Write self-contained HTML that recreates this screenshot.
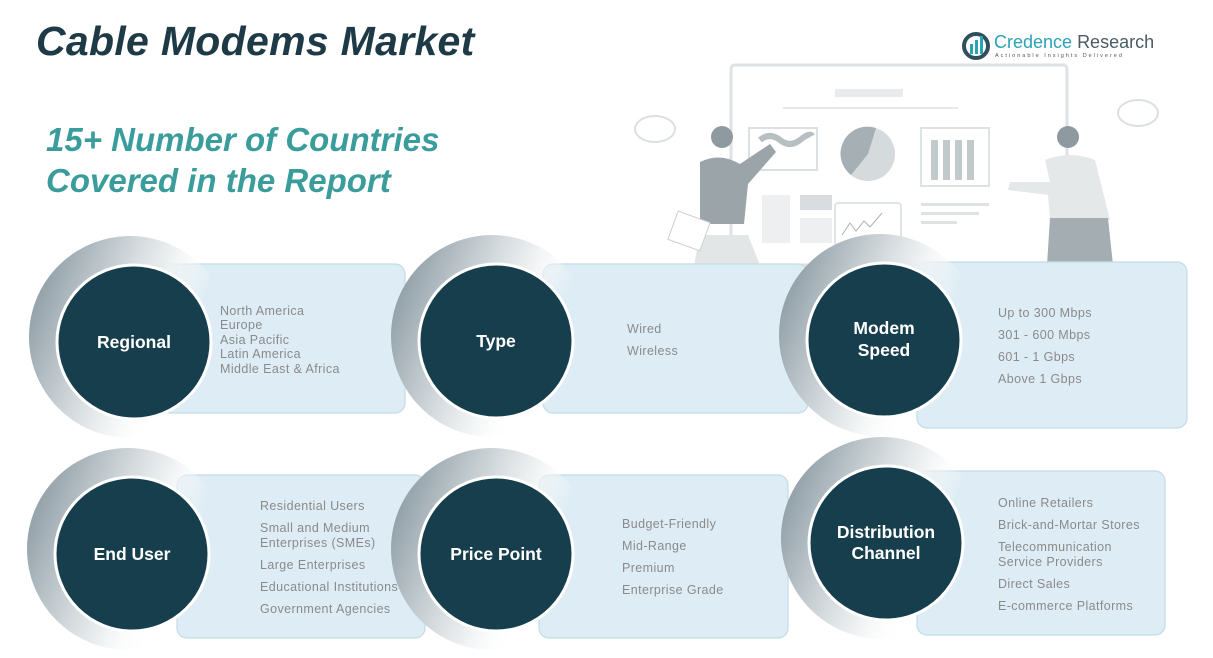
<!DOCTYPE html>
<html><head><meta charset="utf-8"><style>
html,body{margin:0;padding:0;background:#fff;}
svg{display:block;font-family:"Liberation Sans",sans-serif;}
.it{font-size:12.5px;fill:#8a8a8a;letter-spacing:.4px}
.lb{font-size:17.5px;fill:#fff;font-weight:bold;text-anchor:middle}
</style></head><body>
<svg width="1213" height="658" viewBox="0 0 1213 658" xmlns="http://www.w3.org/2000/svg">
<defs>
<linearGradient id="cr" x1="0" y1="0.3" x2="1" y2="0.7">
<stop offset="0" stop-color="#8d9ca5" stop-opacity="1"/><stop offset=".3" stop-color="#c6ced2" stop-opacity="1"/><stop offset=".55" stop-color="#eef1f2" stop-opacity=".9"/><stop offset=".75" stop-color="#fff" stop-opacity="0"/>
</linearGradient>
</defs>
<rect width="1213" height="658" fill="#fff"/>
<text x="36" y="55" font-size="41" font-weight="bold" font-style="italic" fill="#1d3a46" letter-spacing="0.3">Cable Modems Market</text>
<text x="46" y="151" font-size="33" font-weight="bold" font-style="italic" fill="#3b9c9c">15+ Number of Countries</text>
<text x="46" y="192" font-size="33" font-weight="bold" font-style="italic" fill="#3b9c9c">Covered in the Report</text>
<!-- logo -->
<circle cx="976" cy="46" r="12" fill="none" stroke="#2f4f5f" stroke-width="4"/>
<rect x="970" y="44" width="3" height="10" fill="#2aa3b5"/><rect x="975" y="40" width="3" height="14" fill="#2aa3b5"/><rect x="980" y="36" width="3" height="18" fill="#2aa3b5"/>
<text x="994" y="48" font-size="18" fill="#2aa3b5">Credence <tspan fill="#4a5a66">Research</tspan></text>
<text x="995" y="57" font-size="5.5" fill="#555" letter-spacing="2">Actionable Insights Delivered</text>
<!-- illustration -->
<rect x="731" y="65" width="336" height="200" rx="4" fill="none" stroke="#dfe2e4" stroke-width="3"/>
<rect x="835" y="89" width="68" height="8" fill="#e8eaeb"/>
<rect x="783" y="107" width="175" height="2" fill="#e6e8e9"/>
<rect x="749" y="128" width="68" height="42" fill="none" stroke="#dde0e2" stroke-width="2"/>
<path d="M760 140 q10 -8 20 0 t20 0 t12 -4" stroke="#b8bfc3" stroke-width="6" fill="none"/>
<circle cx="868" cy="154" r="27" fill="#d5dadc"/>
<path d="M868 154 L876 128 A27 27 0 0 0 851 175 Z" fill="#a5afb4"/>
<rect x="762" y="195" width="28" height="48" fill="#edeff0"/><rect x="800" y="195" width="32" height="15" fill="#d9dddf"/><rect x="800" y="218" width="32" height="25" fill="#edeff0"/>
<rect x="835" y="203" width="66" height="42" rx="3" fill="none" stroke="#e1e4e5" stroke-width="2"/>
<path d="M842 235 l8 -12 l6 8 l8 -10 l6 6 l12 -14" stroke="#aab2b6" fill="none"/>
<rect x="921" y="128" width="68" height="58" fill="none" stroke="#dfe2e3" stroke-width="2"/>
<rect x="931" y="140" width="7" height="40" fill="#c2c9cc"/><rect x="943" y="140" width="7" height="40" fill="#c2c9cc"/><rect x="955" y="140" width="7" height="40" fill="#c2c9cc"/><rect x="967" y="140" width="7" height="40" fill="#c2c9cc"/>
<rect x="921" y="203" width="68" height="3" fill="#dfe2e3"/><rect x="921" y="212" width="58" height="3" fill="#dfe2e3"/><rect x="921" y="221" width="36" height="3" fill="#dfe2e3"/>
<ellipse cx="655" cy="129" rx="20" ry="13" fill="none" stroke="#dcdfe1" stroke-width="2"/>
<ellipse cx="1138" cy="113" rx="20" ry="13" fill="none" stroke="#dcdfe1" stroke-width="2"/>
<circle cx="722" cy="137" r="11" fill="#8f9aa0"/>
<path d="M700 162 q20 -10 40 2 l30 -20 l6 8 l-28 32 l-4 40 l-44 0 z" fill="#9aa4a9"/>
<path d="M700 235 l48 0 l12 30 l-66 0 z" fill="#e3e6e7"/>
<rect x="672" y="216" width="34" height="30" fill="#fff" stroke="#c9cfd2" transform="rotate(20 689 231)"/>
<circle cx="1068" cy="137" r="11" fill="#8f9aa0"/>
<path d="M1045 160 q25 -10 50 0 l15 60 l-60 0 l-2 -25 l-40 -5 l2 -8 l40 0 z" fill="#e5e8e9"/>
<path d="M1050 218 l58 0 l5 47 l-66 0 z" fill="#a3adb2"/>
<!-- cards -->
<g fill="#deedf5" stroke="#c2dbe6" stroke-width="1.2">
<rect x="150" y="264" width="255" height="149" rx="10"/>
<rect x="543" y="264" width="265" height="149" rx="10"/>
<rect x="917" y="262" width="270" height="166" rx="10"/>
<rect x="177" y="475" width="248" height="163" rx="10"/>
<rect x="539" y="475" width="249" height="163" rx="10"/>
<rect x="917" y="471" width="248" height="164" rx="10"/>
</g>
<g>
<circle cx="130" cy="337" r="101" fill="url(#cr)"/>
<circle cx="134" cy="342" r="77" fill="#173e4c" stroke="#fff" stroke-width="3"/>
<circle cx="492" cy="336" r="101" fill="url(#cr)"/>
<circle cx="496" cy="341" r="77" fill="#173e4c" stroke="#fff" stroke-width="3"/>
<circle cx="880" cy="335" r="101" fill="url(#cr)"/>
<circle cx="884" cy="340" r="77" fill="#173e4c" stroke="#fff" stroke-width="3"/>
<circle cx="128" cy="549" r="101" fill="url(#cr)"/>
<circle cx="132" cy="554" r="77" fill="#173e4c" stroke="#fff" stroke-width="3"/>
<circle cx="492" cy="549" r="101" fill="url(#cr)"/>
<circle cx="496" cy="554" r="77" fill="#173e4c" stroke="#fff" stroke-width="3"/>
<circle cx="882" cy="538" r="101" fill="url(#cr)"/>
<circle cx="886" cy="543" r="77" fill="#173e4c" stroke="#fff" stroke-width="3"/>
</g>
<text class="lb" x="134" y="348">Regional</text>
<text class="lb" x="496" y="347">Type</text>
<text class="lb" x="884" y="334">Modem</text><text class="lb" x="884" y="356">Speed</text>
<text class="lb" x="132" y="560">End User</text>
<text class="lb" x="496" y="560">Price Point</text>
<text class="lb" x="886" y="538">Distribution</text><text class="lb" x="886" y="559">Channel</text>
<g>
<text class="it" x="220" y="315">North America</text>
<text class="it" x="220" y="329">Europe</text>
<text class="it" x="220" y="344">Asia Pacific</text>
<text class="it" x="220" y="358">Latin America</text>
<text class="it" x="220" y="373">Middle East &amp; Africa</text>
<text class="it" x="627" y="333">Wired</text>
<text class="it" x="627" y="355">Wireless</text>
<text class="it" x="998" y="317">Up to 300 Mbps</text>
<text class="it" x="998" y="339">301 - 600 Mbps</text>
<text class="it" x="998" y="361">601 - 1 Gbps</text>
<text class="it" x="998" y="383">Above 1 Gbps</text>
<text class="it" x="260" y="510">Residential Users</text>
<text class="it" x="260" y="532">Small and Medium</text>
<text class="it" x="260" y="547">Enterprises (SMEs)</text>
<text class="it" x="260" y="569">Large Enterprises</text>
<text class="it" x="260" y="591">Educational Institutions</text>
<text class="it" x="260" y="613">Government Agencies</text>
<text class="it" x="622" y="528">Budget-Friendly</text>
<text class="it" x="622" y="550">Mid-Range</text>
<text class="it" x="622" y="572">Premium</text>
<text class="it" x="622" y="594">Enterprise Grade</text>
<text class="it" x="998" y="507">Online Retailers</text>
<text class="it" x="998" y="529">Brick-and-Mortar Stores</text>
<text class="it" x="998" y="551">Telecommunication</text>
<text class="it" x="998" y="566">Service Providers</text>
<text class="it" x="998" y="588">Direct Sales</text>
<text class="it" x="998" y="610">E-commerce Platforms</text>
</g>
</svg>
</body></html>
